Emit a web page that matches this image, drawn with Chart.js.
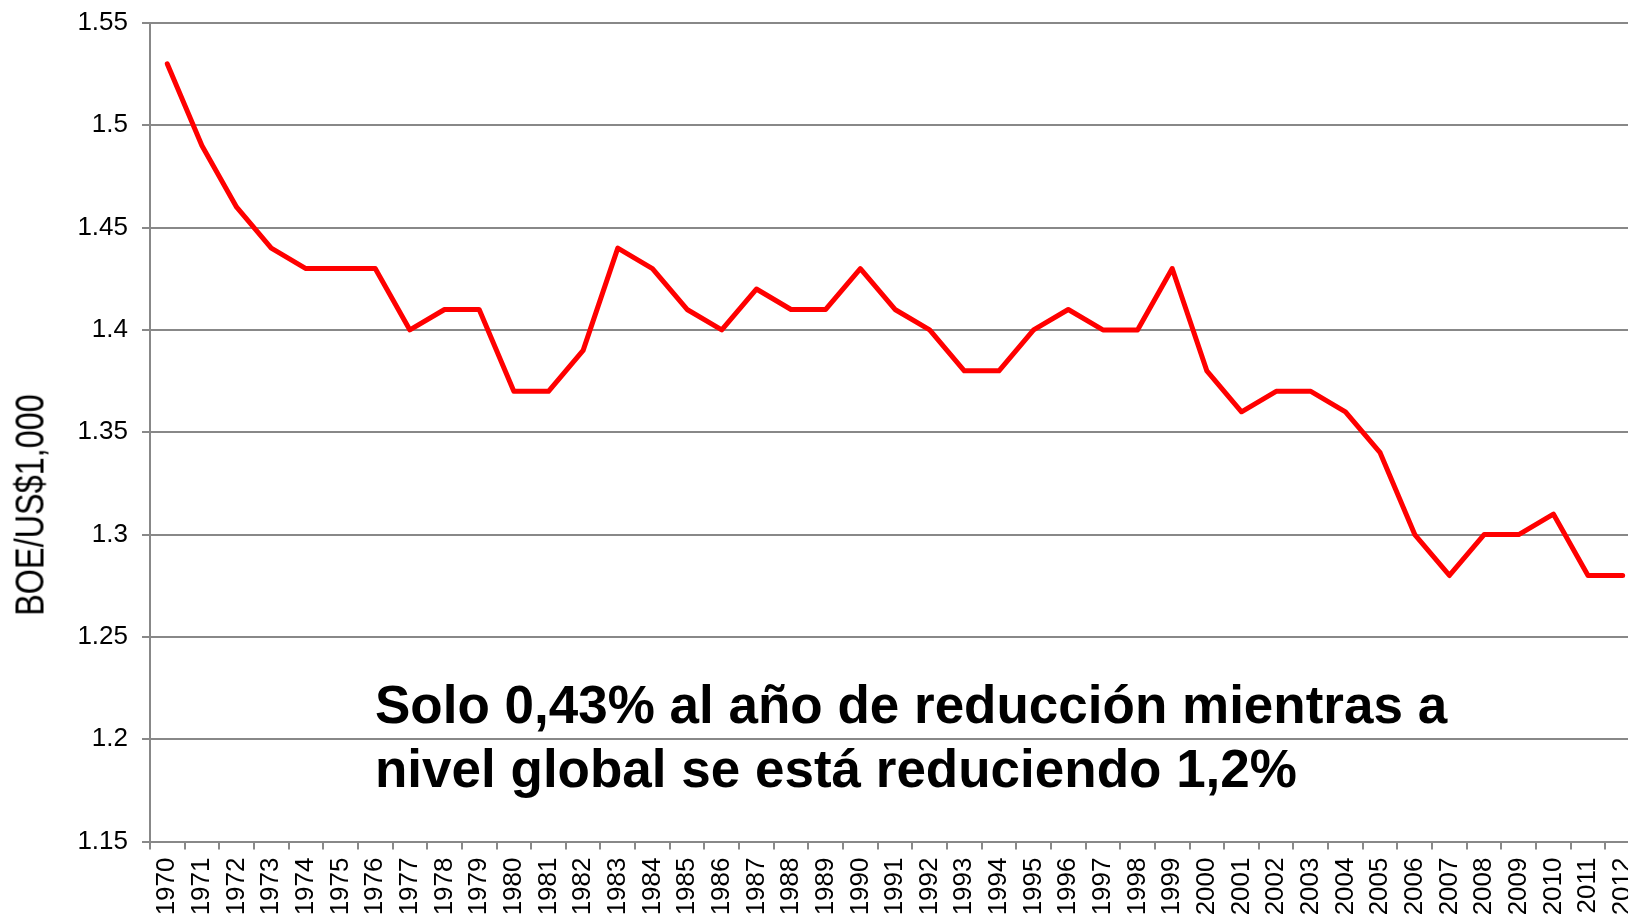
<!DOCTYPE html>
<html lang="es">
<head>
  <meta charset="UTF-8">
  <title>BOE/US$1,000</title>
  <style>
    body {
      margin: 0;
      background: #ffffff;
      overflow: hidden;
      font-family: "Liberation Sans", Arial, sans-serif;
    }
    .wrap {
      position: absolute;
      left: 0;
      top: 0;
      width: 1660px;
      height: 918px;
    }
    .y-title {
      position: absolute;
      left: 30px;
      top: 505px;
      transform: translate(-50%, -50%) rotate(-90deg) scaleX(0.81);
      font-size: 40px;
      color: #000;
      white-space: nowrap;
    }
    .note {
      position: absolute;
      left: 375px;
      top: 673px;
      font-size: 53px;
      font-weight: bold;
      line-height: 64px;
      color: #000;
      white-space: nowrap;
    }
  </style>
</head>
<body>
  <div class="wrap">
    <canvas id="chart"></canvas>
  </div>
  <div class="y-title">BOE/US$1,000</div>
  <div class="note">Solo 0,43% al año de reducción mientras a<br>nivel global se está reduciendo 1,2%</div>

  <script src="https://cdn.jsdelivr.net/npm/chart.js"></script>
  <script>
    const years = [
      '1970', '1971', '1972', '1973', '1974', '1975', '1976', '1977', '1978', '1979',
      '1980', '1981', '1982', '1983', '1984', '1985', '1986', '1987', '1988', '1989',
      '1990', '1991', '1992', '1993', '1994', '1995', '1996', '1997', '1998', '1999',
      '2000', '2001', '2002', '2003', '2004', '2005', '2006', '2007', '2008', '2009',
      '2010', '2011', '2012'
    ];
    const intensity = [
      1.53, 1.49, 1.46, 1.44, 1.43, 1.43, 1.43, 1.40, 1.41, 1.41,
      1.37, 1.37, 1.39, 1.44, 1.43, 1.41, 1.40, 1.42, 1.41, 1.41,
      1.43, 1.41, 1.40, 1.38, 1.38, 1.40, 1.41, 1.40, 1.40, 1.43,
      1.38, 1.36, 1.37, 1.37, 1.36, 1.34, 1.30, 1.28, 1.30, 1.30,
      1.31, 1.28, 1.28
    ];
    const yMin = 1.15;
    const yMax = 1.55;
    const yStep = 0.05;

    const gridGray = '#888888';
    const tickFont = { family: '"Liberation Sans", Arial, sans-serif', size: 26 };

    new Chart(document.getElementById('chart'), {
      type: 'line',
      data: {
        labels: years,
        datasets: [{
          data: intensity,
          borderColor: '#ff0000',
          borderWidth: 5,
          pointRadius: 0,
          tension: 0,
          borderCapStyle: 'round',
          borderJoinStyle: 'round',
          fill: false
        }]
      },
      options: {
        responsive: true,
        maintainAspectRatio: false,
        animation: false,
        layout: { padding: { top: 23, right: 20, bottom: 0, left: 0 } },
        plugins: {
          legend: { display: false },
          tooltip: { enabled: false }
        },
        scales: {
          x: {
            offset: true,
            grid: {
              offset: true,
              drawOnChartArea: false,
              drawTicks: true,
              tickLength: 8,
              color: gridGray,
              lineWidth: 2
            },
            border: { color: gridGray, width: 2 },
            ticks: {
              autoSkip: false,
              minRotation: 90,
              maxRotation: 90,
              padding: 8,
              color: '#000',
              font: tickFont
            },
            afterFit: (scale) => {
              scale.height = 76.5;
              scale.paddingLeft = 0;
              scale.paddingRight = 0;
            }
          },
          y: {
            min: yMin,
            max: yMax,
            grid: {
              color: gridGray,
              lineWidth: 2,
              tickLength: 8
            },
            border: { color: gridGray, width: 2 },
            ticks: {
              stepSize: yStep,
              padding: 14,
              color: '#000',
              font: tickFont,
              callback: (v) => String(Math.round(v * 100) / 100)
            },
            afterFit: (scale) => {
              scale.width = 150;
              scale.paddingTop = 0;
              scale.paddingBottom = 0;
            }
          }
        }
      }
    });
  </script>
</body>
</html>
